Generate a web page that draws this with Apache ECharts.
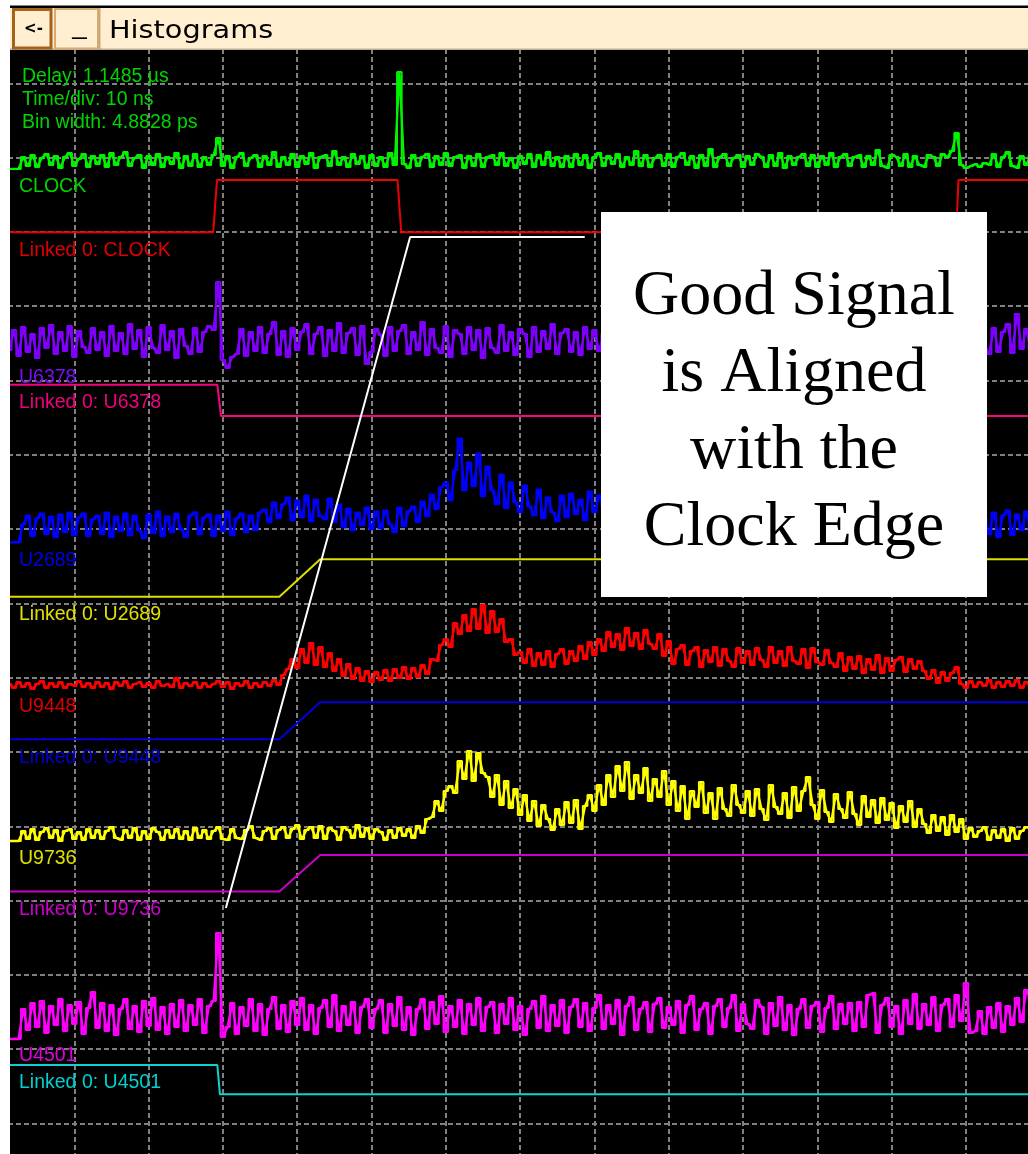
<!DOCTYPE html>
<html>
<head>
<meta charset="utf-8">
<script src="https://cdn.jsdelivr.net/npm/echarts@6/dist/echarts.min.js"></script>
<style>
  html, body { margin: 0; padding: 0; background: #ffffff; }
  #chart { width: 1028px; height: 1154px; }
</style>
</head>
<body>
<div id="chart"></div>
<script>
// ---------------------------------------------------------------------------
// Time base: 10 ns per division, histogram samples every 0.625 ns
// ---------------------------------------------------------------------------
const NS_PER_DIV = 10;
const SAMPLE_NS = 0.625;
const HIST_START = 2;          // index of the first sample in each histogram
const GAIN = 74.3;             // counts per vertical division
const DIV_PX = 74.3;           // screen size of one division

// Histogram counts, one value per sample starting at HIST_START
const clockHist = [
  0,0,0,12,3,14,2,11,15,4,13,1,12,16,3,10,15,2,13,5,
  14,2,16,4,12,17,3,11,14,1,13,4,15,2,12,5,16,1,13,3,
  15,2,12,4,14,31,3,13,1,12,16,3,11,14,2,13,4,17,2,12,
  4,15,2,13,5,16,1,12,14,3,18,4,12,2,15,5,13,1,14,3,
  12,2,16,4,97,5,1,14,3,12,15,2,13,4,16,3,12,14,1,13,
  3,15,2,12,14,4,16,3,11,1,13,5,15,2,14,4,17,3,12,2,
  13,2,15,4,14,1,12,16,3,13,5,15,2,12,4,18,3,14,2,11,
  14,3,15,2,12,16,4,13,1,14,3,20,2,12,15,3,11,14,2,13,
  4,15,12,2,14,3,16,1,13,4,12,15,3,14,2,13,4,16,2,12,
  15,3,12,14,2,13,4,19,3,1,14,12,3,15,2,13,4,2,14,12,
  3,15,12,18,36,4,1,3,5,2,6,4,15,2,12,17,3,1,13,4,
  14
];

// U6378 and U2689 are only known on both sides of the note box
const u6378HistA = [
  22,42,16,45,20,38,14,44,24,47,18,40,21,46,15,41,25,19,44,22,
  40,16,46,21,39,18,48,23,42,15,45,24,19,47,22,41,14,43,26,18,
  44,20,40,46,42,90,12,4,15,18,43,16,40,21,45,19,38,50,17,41,
  15,44,22,40,48,18,38,45,16,42,21,49,19,39,44,17,46,8,20,43,
  37,16,45,21,41,47,18,40,22,50,17,43,24,19,46,15,42,38,18,45,
  22,42,14,44,24,19,47,21,40,17,43,38,15,45,20,41,23,48,18,39,
  43,20,40,17,45,23,42,21,38
];
const u6378HistBStart = 212;
const u6378HistB = [24,18,44,20,40,48,19,58,23,43,22];

const u2689HistA = [
  0,0,0,18,27,6,24,29,8,26,5,28,10,30,7,25,29,6,23,27,
  8,30,5,26,11,29,7,27,12,4,28,9,31,6,26,10,29,13,5,27,
  30,8,25,28,6,27,11,31,7,24,29,10,27,12,30,33,20,40,24,38,
  45,22,42,25,47,21,43,26,23,44,20,38,15,34,12,30,17,35,13,31,
  14,32,18,10,35,16,31,36,20,41,26,48,33,55,60,42,72,104,52,80,
  56,89,46,76,52,38,68,34,60,40,30,57,36,27,53,24,45,30,21,47,
  25,49,28,43,22,51,30,47,36
];
const u2689HistBStart = 212;
const u2689HistB = [24,8,30,5,27,32,7,28,12,31,10];

const u9448Hist = [
  5,1,7,2,6,0,5,8,1,6,2,7,1,5,3,8,2,6,1,7,
  2,6,0,7,3,8,1,5,7,2,6,1,8,3,5,2,11,1,6,3,
  7,1,6,2,5,8,2,7,0,6,3,8,1,6,2,7,3,9,4,14,
  20,30,21,40,26,46,24,42,22,36,18,30,13,25,10,21,8,18,7,17,
  9,19,8,20,11,22,10,21,12,24,15,30,28,44,50,42,66,55,74,58,
  80,60,84,56,78,57,70,47,50,34,37,26,40,23,36,24,38,22,35,40,
  25,38,28,43,30,47,34,50,38,57,42,55,39,61,43,56,40,59,45,40,
  55,33,48,25,40,44,24,38,42,22,39,27,42,23,40,28,22,41,26,38,
  24,41,29,22,42,26,38,23,42,28,25,40,21,41,27,24,39,26,22,36,
  18,32,20,33,16,30,19,34,16,31,18,29,32,17,30,20,28,18,10,19,
  6,17,8,16,22,5,1,8,2,7,3,9,1,7,2,8,3,9,1,7,
  3
];

const u9736Hist = [
  0,0,0,10,2,12,1,9,13,3,11,0,10,12,2,9,1,12,3,11,
  2,10,14,3,1,11,3,13,1,10,2,13,9,1,11,3,12,2,10,1,
  13,3,11,2,10,14,2,1,12,3,2,11,15,3,1,10,13,2,11,14,
  3,12,16,2,11,14,3,15,2,13,10,1,14,11,3,16,4,13,2,12,
  9,1,11,3,13,5,12,3,15,8,22,24,40,30,50,55,48,80,62,90,
  60,88,68,64,44,66,36,60,33,52,26,46,20,40,15,36,22,11,32,16,
  39,18,41,12,35,46,30,56,36,66,44,75,50,79,42,66,48,73,40,62,
  44,70,36,60,30,55,22,50,34,59,28,48,22,53,32,25,56,36,28,50,
  25,52,32,21,56,34,27,48,23,54,30,50,64,36,22,51,29,19,47,32,
  23,49,27,16,45,24,41,18,43,21,38,13,35,19,40,14,32,17,8,26,
  10,24,6,26,9,22,2,13,4,10,14,1,11,3,12,0,13,2,10,14,
  12
];

const u4501Hist = [
  0,0,0,30,9,36,12,38,6,33,14,40,8,34,15,37,5,31,47,11,
  36,8,34,4,30,40,10,33,7,38,13,41,9,32,5,35,12,39,8,34,
  14,40,6,33,38,106,2,12,36,5,32,13,40,8,35,4,30,42,10,34,
  7,38,14,41,9,34,5,31,39,12,44,8,33,14,37,6,32,40,11,30,
  39,6,35,13,42,9,32,4,30,40,10,37,15,43,7,33,12,39,5,35,
  14,41,8,32,37,6,35,15,41,9,33,4,30,38,11,43,8,34,13,39,
  6,32,40,12,36,8,31,44,10,34,15,39,4,33,42,9,30,37,7,35,
  41,11,32,14,38,6,34,43,9,30,36,5,33,40,12,31,44,8,35,15,
  10,39,32,5,36,13,42,9,34,4,30,40,11,33,37,7,31,43,10,35,
  15,36,8,37,12,44,46,6,34,41,12,33,5,39,15,45,10,35,14,42,
  8,34,40,12,44,18,56,6,8,28,5,32,11,36,7,33,14,41,17,49,
  40
];

// Linked (cumulative) traces: edge times in ns and level (0 = low, 1 = high)
const clockLinkT = [0, 28.7, 29.2, 53.5, 54.0, 128.7, 129.0, 140];
const clockLinkV = [0, 0, 1, 1, 0, 0, 1, 1];
const u6378LinkT = [0, 29.25, 29.75, 140];
const u6378LinkV = [1, 1, 0, 0];
const u2689LinkT = [0, 37.6, 43.1, 140];
const u2689LinkV = [0, 0, 1, 1];
const u9448LinkT = [0, 37.6, 43.1, 140];
const u9448LinkV = [0, 0, 1, 1];
const u9736LinkT = [0, 37.6, 43.1, 140];
const u9736LinkV = [0, 0, 1, 1];
const u4501LinkT = [0, 29.25, 29.6, 140];
const u4501LinkV = [1, 1, 0, 0];

// Pointer from the U9736 edge up to the clock edge (ns, divisions from top)
const pointerT = [30.4, 55.2, 78.7];
const pointerDiv = [12.10, 3.07, 3.07];

// Readout text
const readout = ['Delay: 1.1485 \u00b5s', 'Time/div: 10 ns', 'Bin width: 4.8828 ps'];
const noteLines = ['Good Signal', 'is Aligned', 'with the', 'Clock Edge'];

// ---------------------------------------------------------------------------
// Display placement of each trace (divisions from the top of the screen)
// ---------------------------------------------------------------------------
const histRows = [
  { name: 'CLOCK', color: '#00f400', zero: 2.153, segs: [[HIST_START, clockHist]] },
  { name: 'U6378', color: '#8000ff', zero: 4.886, segs: [[HIST_START, u6378HistA], [u6378HistBStart, u6378HistB]] },
  { name: 'U2689', color: '#0000ff', zero: 7.178, segs: [[HIST_START, u2689HistA], [u2689HistBStart, u2689HistB]] },
  { name: 'U9448', color: '#ff0000', zero: 9.152, segs: [[HIST_START, u9448Hist]] },
  { name: 'U9736', color: '#ffff00', zero: 11.198, segs: [[HIST_START, u9736Hist]] },
  { name: 'U4501', color: '#ff00ff', zero: 13.863, segs: [[HIST_START, u4501Hist]] }
];
const linkRows = [
  { name: 'Linked 0: CLOCK', color: '#ee0000', lo: 3.005, hi: 2.301, t: clockLinkT, v: clockLinkV },
  { name: 'Linked 0: U6378', color: '#f5067f', lo: 5.478, hi: 5.057, t: u6378LinkT, v: u6378LinkV },
  { name: 'Linked 0: U2689', color: '#dede00', lo: 7.910, hi: 7.407, t: u2689LinkT, v: u2689LinkV },
  { name: 'Linked 0: U9448', color: '#0000dc', lo: 9.829, hi: 9.331, t: u9448LinkT, v: u9448LinkV },
  { name: 'Linked 0: U9736', color: '#cc00cc', lo: 11.877, hi: 11.386, t: u9736LinkT, v: u9736LinkV },
  { name: 'Linked 0: U4501', color: '#10d0d0', lo: 14.607, hi: 14.213, t: u4501LinkT, v: u4501LinkV }
];

// Channel captions: text, left, centre y, colour
const captions = [
  ['CLOCK', 19, 187, '#00d400'],
  ['Linked 0: CLOCK', 19, 250.5, '#e00000'],
  ['U6378', 19, 378, '#7a10f8'],
  ['Linked 0: U6378', 19, 402.5, '#f00080'],
  ['U2689', 19, 560.5, '#0000e8'],
  ['Linked 0: U2689', 19, 614.5, '#e0e000'],
  ['U9448', 19, 706.5, '#e00000'],
  ['Linked 0: U9448', 19, 757.5, '#0000d0'],
  ['U9736', 19, 858.5, '#e0e000'],
  ['Linked 0: U9736', 19, 909.5, '#d000d0'],
  ['U4501', 19, 1055.5, '#e000e0'],
  ['Linked 0: U4501', 19, 1082.5, '#00d0d0']
];

// ---------------------------------------------------------------------------
// Each histogram is stroked twice from the same samples: once as a polyline
// and once as bin steps, which gives the dense hair-like band of the display.
function histData(row) {
  const data = [];
  row.segs.forEach(([start, counts], si) => {
    if (si > 0) data.push([(start - 0.5) * SAMPLE_NS, '-']);
    counts.forEach((c, i) => data.push([(start + i) * SAMPLE_NS, row.zero - c / GAIN]));
  });
  return data;
}
function histSeries(row) {
  const data = histData(row);
  const base = {
    type: 'line', name: row.name, data, symbol: 'none', silent: true,
    itemStyle: { color: row.color }, z: 4, clip: true, connectNulls: false
  };
  return [
    Object.assign({}, base, { lineStyle: { color: row.color, width: 2.3 } }),
    Object.assign({}, base, { step: 'middle', lineStyle: { color: row.color, width: 1.9 } })
  ];
}
function linkSeries(row) {
  return {
    type: 'line', name: row.name, symbol: 'none', silent: true,
    data: row.t.map((t, i) => [t, row.lo + row.v[i] * (row.hi - row.lo)]),
    lineStyle: { color: row.color, width: 2 }, itemStyle: { color: row.color },
    z: 4, clip: true
  };
}

const series = [];
histRows.forEach((h, i) => { series.push(...histSeries(h)); series.push(linkSeries(linkRows[i])); });
series.push({
  type: 'line', name: 'pointer', symbol: 'none', silent: true,
  data: pointerT.map((t, i) => [t, pointerDiv[i]]),
  lineStyle: { color: '#ffffff', width: 2 }, z: 6, clip: true
});

const labelFont = '19.5px "Liberation Sans", Arial, sans-serif';
const graphics = [];
readout.forEach((txt, i) => graphics.push({
  type: 'text', x: 22, y: 76.5 + i * 23, z: 3,
  style: { text: txt, fill: '#00d400', font: labelFont, align: 'left', verticalAlign: 'middle',
           textAlign: 'left', textVerticalAlign: 'middle' }
}));
captions.forEach(([txt, x, y, col]) => graphics.push({
  type: 'text', x, y, z: 3,
  style: { text: txt, fill: col, font: labelFont, align: 'left', verticalAlign: 'middle',
           textAlign: 'left', textVerticalAlign: 'middle' }
}));

// window frame and title bar
graphics.push(
  { type: 'rect', z: 20, shape: { x: 0, y: 0, width: 10, height: 1154 }, style: { fill: '#ffffff' } },
  { type: 'rect', z: 20, shape: { x: 0, y: 0, width: 1028, height: 5.5 }, style: { fill: '#ffffff' } },
  { type: 'rect', z: 20, shape: { x: 10, y: 5.5, width: 1018, height: 2.5 }, style: { fill: '#000000' } },
  { type: 'rect', z: 20, shape: { x: 10, y: 8, width: 1018, height: 41 }, style: { fill: '#ffefd0' } },
  { type: 'rect', z: 21, shape: { x: 10, y: 48.5, width: 1018, height: 1.5 }, style: { fill: '#bfae94' } },
  { type: 'rect', z: 21, shape: { x: 13.5, y: 9.5, width: 37.5, height: 38.5 },
    style: { fill: '#ffefd0', stroke: '#a5621c', lineWidth: 3 } },
  { type: 'rect', z: 21, shape: { x: 55, y: 9, width: 43, height: 39.5 },
    style: { fill: 'none', stroke: '#d6aa72', lineWidth: 2 } },
  { type: 'line', z: 21, shape: { x1: 99.5, y1: 8, x2: 99.5, y2: 49 },
    style: { stroke: '#c9a878', lineWidth: 2 } },
  { type: 'text', z: 22, x: 33.5, y: 29,
    style: { text: '<-', fill: '#000000', font: 'bold 15px "DejaVu Sans", sans-serif',
             align: 'center', verticalAlign: 'middle', textAlign: 'center', textVerticalAlign: 'middle' } },
  { type: 'text', z: 22, x: 79.5, y: 26.5,
    style: { text: '_', fill: '#000000', font: '26px "Liberation Sans", Arial, sans-serif',
             align: 'center', verticalAlign: 'middle', textAlign: 'center', textVerticalAlign: 'middle' } },
  { type: 'text', z: 22, x: 109, y: 31.5, scaleX: 1.15,
    style: { text: 'Histograms', fill: '#000000', font: '25px "DejaVu Sans", sans-serif',
             align: 'left', verticalAlign: 'middle', textAlign: 'left', textVerticalAlign: 'middle' } }
);

// note box
graphics.push(
  { type: 'rect', z: 20, shape: { x: 601, y: 212, width: 386, height: 385 }, style: { fill: '#ffffff' } },
  { type: 'text', z: 21, x: 794, y: 413,
    style: { text: noteLines.join('\n'), fill: '#000000', font: '64px "Liberation Serif", "Times New Roman", serif',
             lineHeight: 77, align: 'center', verticalAlign: 'middle', textAlign: 'center', textVerticalAlign: 'middle' } }
);

// the plot area fills the window below the title bar; divisions are square
const W = 1028, H = 1154, TOP = 9;
const gridLine = { show: true, showMinLine: false, showMaxLine: false,
                   lineStyle: { color: '#808080', width: 2, type: [5, 3] } };
const option = {
  backgroundColor: '#ffffff',
  animation: false,
  grid: { left: 0, top: TOP, width: W, height: H - TOP, show: true,
          backgroundColor: '#000000', borderWidth: 0, containLabel: false },
  xAxis: { type: 'value', min: 0, max: W / DIV_PX * NS_PER_DIV, interval: NS_PER_DIV,
           axisLine: { show: false }, axisTick: { show: false }, axisLabel: { show: false },
           splitLine: gridLine },
  yAxis: { type: 'value', inverse: true, min: 0, max: (H - TOP) / DIV_PX, interval: 1,
           axisLine: { show: false }, axisTick: { show: false }, axisLabel: { show: false },
           splitLine: gridLine },
  series,
  graphic: { elements: graphics }
};

const chart = echarts.init(document.getElementById('chart'), null, { renderer: 'canvas', width: W, height: H });
chart.setOption(option);
</script>
</body>
</html>
